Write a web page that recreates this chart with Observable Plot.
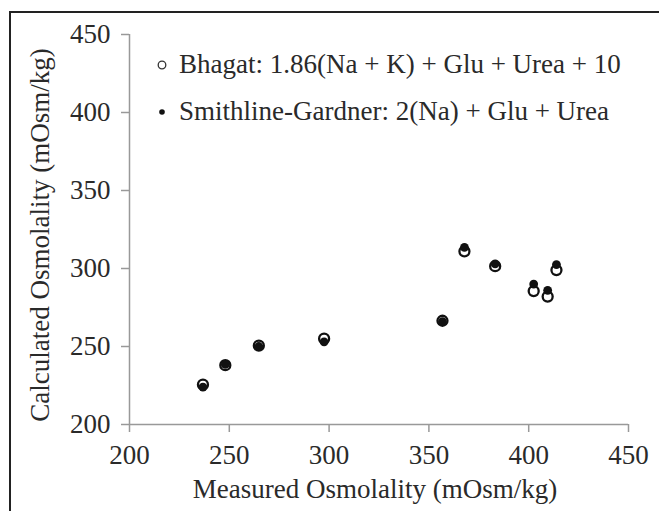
<!DOCTYPE html>
<html>
<head>
<meta charset="utf-8">
<script src="https://cdn.jsdelivr.net/npm/d3@7"></script>
<script src="https://cdn.jsdelivr.net/npm/@observablehq/plot@0.6"></script>
<style>
  html, body { margin: 0; padding: 0; background: #fff; }
  #wrap { position: relative; width: 659px; height: 511px; overflow: hidden; font-family: "Liberation Serif", "DejaVu Serif", serif; color: #2a2a2a; }
  #chart { position: absolute; left: 0; top: 0; }
  #frame { position: absolute; left: 9px; top: 11px; width: 700px; height: 600px; border-left: 2.5px solid #222; border-top: 2.5px solid #222; pointer-events: none; }
  .title { position: absolute; white-space: nowrap; color: #2a2a2a; text-align: center; line-height: 30px; height: 30px; }
  #xtitle { left: 125px; width: 500px; top: 474px; font-size: 27px; }
  #ytitle { left: -210px; width: 500px; top: 220px; font-size: 27px; transform: rotate(-90deg); transform-origin: 50% 50%; }
  #legend { position: absolute; left: 156px; top: 41px; font-size: 27px; color: #2a2a2a; }
  #legend .row { display: flex; align-items: center; height: 47px; white-space: nowrap; }
  #legend svg { margin-right: 11px; }
</style>
</head>
<body>
<div id="wrap">
  <div id="chart"></div>
  <div id="frame"></div>
  <div class="title" id="xtitle"></div>
  <div class="title" id="ytitle"></div>
  <div id="legend"></div>
</div>
<script>
const measured  = [236.8, 248.0, 264.8, 297.5, 356.8, 367.8, 383.2, 402.5, 409.5, 413.9];
const bhagat    = [225.5, 238.0, 250.5, 255.0, 266.5, 311.0, 301.5, 285.5, 282.0, 299.0];
const smithline = [224.0, 238.5, 250.0, 253.0, 266.0, 313.5, 303.0, 290.0, 286.0, 302.5];
const xTicks = [200, 250, 300, 350, 400, 450];
const yTicks = [200, 250, 300, 350, 400, 450];
const seriesNames = ["Bhagat: 1.86(Na + K) + Glu + Urea + 10", "Smithline-Gardner: 2(Na) + Glu + Urea"];
const xLabel = "Measured Osmolality (mOsm/kg)";
const yLabel = "Calculated Osmolality (mOsm/kg)";

const bhagatData = measured.map((m, i) => ({x: m, y: bhagat[i]}));
const smithData = measured.map((m, i) => ({x: m, y: smithline[i]}));

const chart = Plot.plot({
  width: 659,
  height: 511,
  marginLeft: 129,
  marginRight: 31,
  marginTop: 34,
  marginBottom: 87,
  style: { fontFamily: "Liberation Serif, serif", background: "transparent", color: "#2a2a2a" },
  x: { domain: [200, 450] },
  y: { domain: [200, 450] },
  marks: [
    Plot.ruleY([200], { stroke: "#999", strokeWidth: 1.5 }),
    Plot.ruleX([200], { stroke: "#999", strokeWidth: 1.5 }),
    Plot.axisX({ ticks: xTicks, tickSize: 8, tickPadding: 12, fontSize: 27, stroke: "#999", strokeWidth: 1.5, fill: "#2a2a2a", label: null }),
    Plot.axisY({ ticks: yTicks, tickSize: 8, tickPadding: 11, fontSize: 27, stroke: "#999", strokeWidth: 1.5, fill: "#2a2a2a", label: null }),
    Plot.dot(bhagatData, { x: "x", y: "y", r: 5, stroke: "#111", strokeWidth: 2.3, fill: "white" }),
    Plot.dot(smithData, { x: "x", y: "y", r: 4.4, fill: "#111", stroke: "none" })
  ]
});
document.getElementById("chart").appendChild(chart);
document.getElementById("xtitle").textContent = xLabel;
document.getElementById("ytitle").textContent = yLabel;

const legend = document.getElementById("legend");
seriesNames.forEach((name, i) => {
  const row = document.createElement("div");
  row.className = "row";
  const sw = i === 0
    ? '<svg width="12" height="12"><circle cx="6" cy="6" r="3.8" fill="white" stroke="#333" stroke-width="1.3"/></svg>'
    : '<svg width="12" height="12"><circle cx="6" cy="6" r="2.8" fill="#111"/></svg>';
  row.innerHTML = sw + '<span></span>';
  row.querySelector("span").textContent = name;
  legend.appendChild(row);
});
</script>
</body>
</html>
